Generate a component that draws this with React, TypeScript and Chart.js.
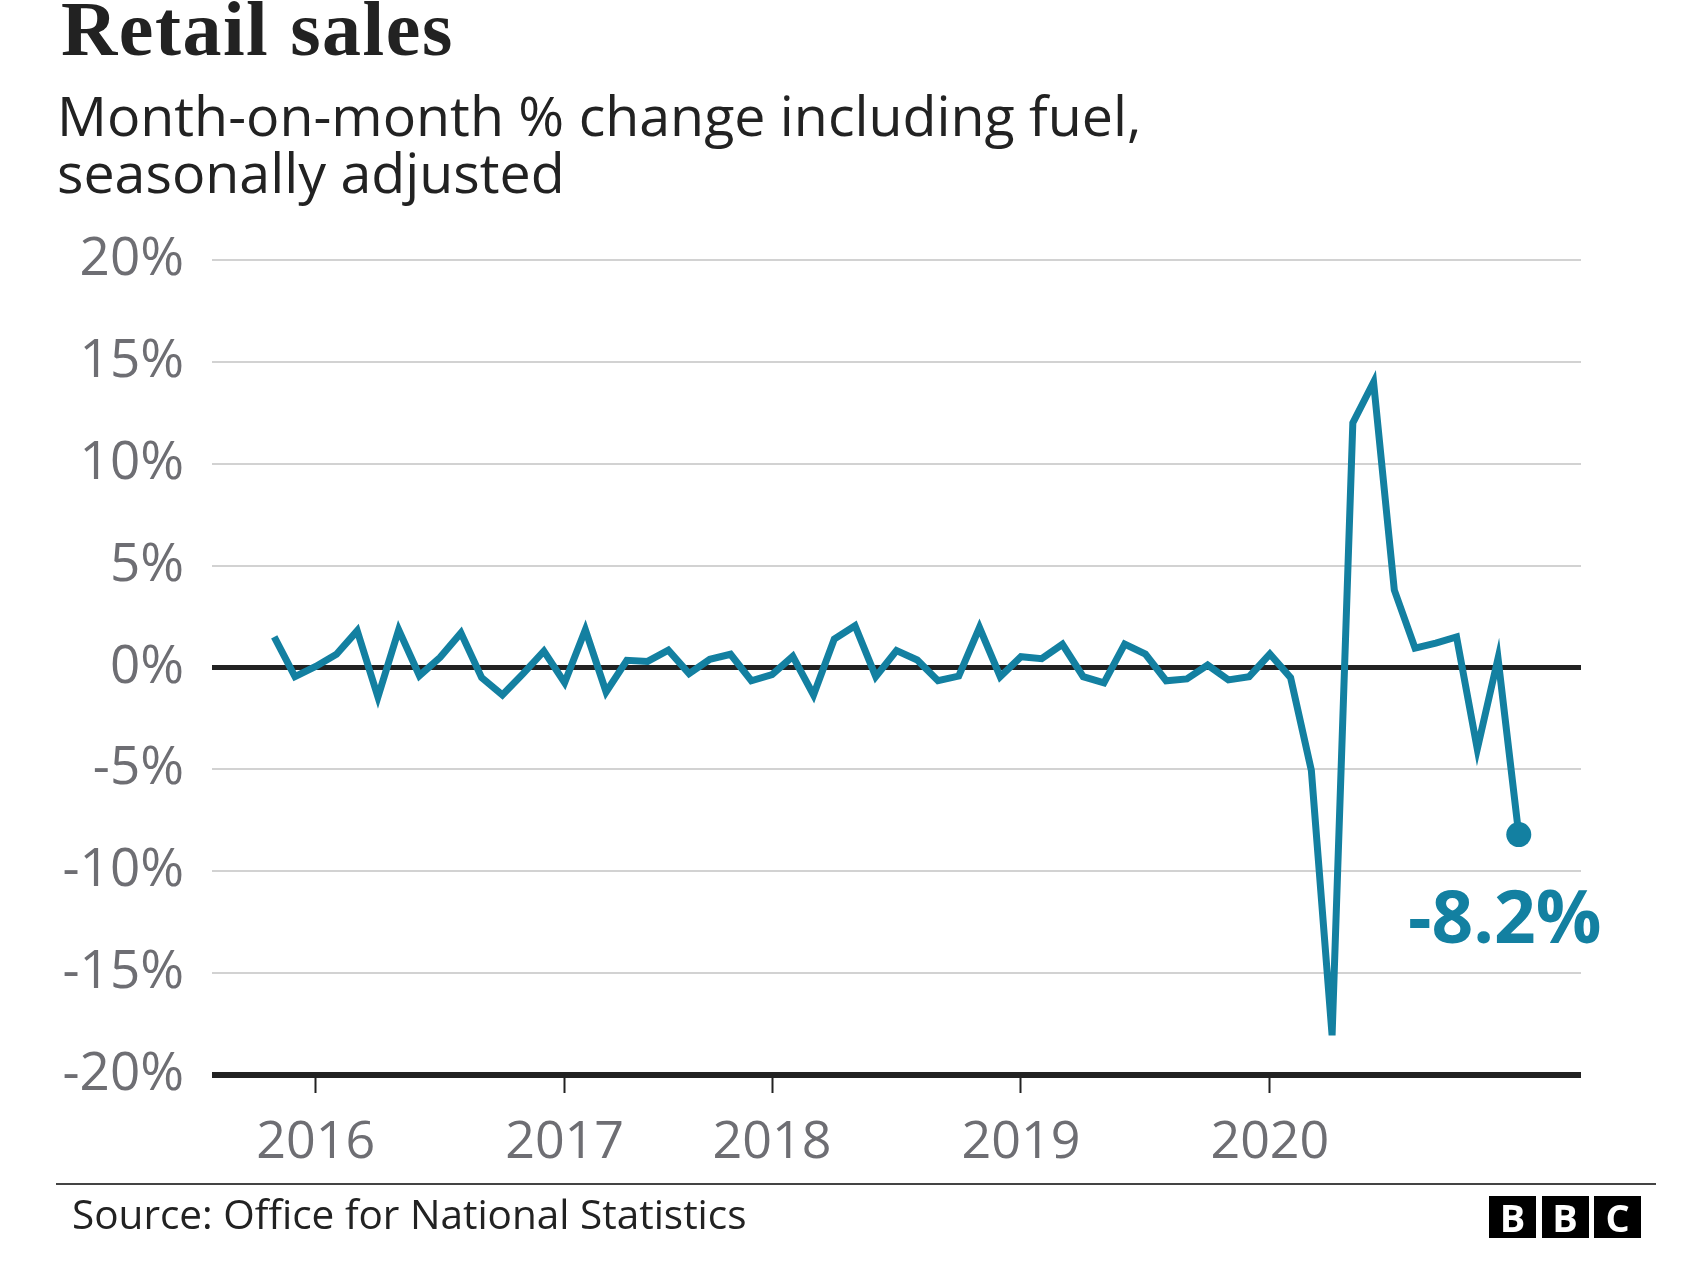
import React, { useEffect, useRef } from "react";
import { Chart, registerables } from "chart.js";

Chart.register(...registerables);

// ---- data ----
const monthNames = ["Jan", "Feb", "Mar", "Apr", "May", "Jun", "Jul", "Aug", "Sep", "Oct", "Nov", "Dec"];
const years = [2016, 2017, 2018, 2019, 2020];
const categories: string[] = [];
for (const y of years) for (const m of monthNames) categories.push(`${m} ${y}`);
categories.push("Jan 2021");

// Month-on-month % change, Jan 2016 .. Jan 2021
const retailSales = [
  1.5, -0.45, 0.05, 0.65, 1.8, -1.45, 1.85, -0.4, 0.5, 1.7, -0.5, -1.35,
  -0.3, 0.8, -0.75, 1.85, -1.2, 0.35, 0.3, 0.85, -0.3, 0.4, 0.65, -0.65,
  -0.35, 0.55, -1.35, 1.4, 2.05, -0.45, 0.83, 0.37, -0.65, -0.42, 1.96, -0.45,
  0.53, 0.43, 1.14, -0.45, -0.75, 1.15, 0.66, -0.65, -0.56, 0.12, -0.61, -0.45,
  0.66, -0.5, -5.05, -18.05, 12.0, 14.0, 3.8, 0.95, 1.2, 1.5, -4.0, 0.45,
  -8.2,
];

const yTickValues = [-20, -15, -10, -5, 0, 5, 10, 15, 20];
const xTickCategories = ["Mar 2016", "Mar 2017", "Jan 2018", "Jan 2019", "Jan 2020"];
const xTickLabels = ["2016", "2017", "2018", "2019", "2020"];

const TITLE = "Retail sales";
const SUBTITLE_1 = "Month-on-month % change including fuel,";
const SUBTITLE_2 = "seasonally adjusted";
const SOURCE = "Source: Office for National Statistics";

// ---- styles ----
const TEAL = "#1380A1";
const GRAY = "#6e6e73";
const DARK = "#222222";
const SANS = '"Open Sans", "Noto Sans", sans-serif';

const W = 1701;
const H = 1274;

export default function App() {
  const ref = useRef<HTMLCanvasElement | null>(null);

  useEffect(() => {
    const canvas = ref.current;
    if (!canvas) return;
    const last = retailSales.length - 1;
    const xTickIdx = xTickCategories.map((c) => categories.indexOf(c));

    const endLabel = {
      id: "endLabel",
      afterDatasetsDraw(chart: any) {
        const meta = chart.getDatasetMeta(0);
        const pt = meta.data[last];
        if (!pt) return;
        const ctx = chart.ctx;
        ctx.save();
        ctx.font = `bold 73px ${SANS}`;
        ctx.fillStyle = TEAL;
        ctx.textAlign = "center";
        ctx.textBaseline = "alphabetic";
        ctx.fillText(`${retailSales[last]}%`, pt.x - 14, pt.y + 108);
        ctx.restore();
      },
    };

    const chart = new Chart(canvas, {
      type: "line",
      data: {
        datasets: [
          {
            data: retailSales.map((v, i) => ({ x: i, y: v })),
            borderColor: TEAL,
            borderWidth: 7,
            borderJoinStyle: "miter",
            borderCapStyle: "butt",
            tension: 0,
            pointRadius: (c: any) => (c.dataIndex === last ? 12.5 : 0),
            pointHoverRadius: (c: any) => (c.dataIndex === last ? 12.5 : 0),
            pointBackgroundColor: TEAL,
            pointBorderWidth: 0,
            clip: false,
          } as any,
        ],
      },
      options: {
        responsive: false,
        animation: false,
        devicePixelRatio: 1,
        events: [],
        layout: { padding: { left: 0, top: 260, right: 120, bottom: 79 } },
        plugins: {
          legend: { display: false },
          tooltip: { enabled: false },
          title: { display: false },
        },
        scales: {
          x: {
            type: "linear",
            min: -3,
            max: 63,
            afterBuildTicks: (s: any) => {
              s.ticks = xTickIdx.map((v) => ({ value: v }));
            },
            afterFit: (s: any) => {
              s.height = 120;
            },
            border: { display: false },
            grid: {
              drawOnChartArea: false,
              drawTicks: true,
              tickLength: 18,
              tickColor: DARK,
              tickWidth: 2,
              color: DARK,
            },
            ticks: {
              autoSkip: false,
              maxRotation: 0,
              padding: 19,
              color: GRAY,
              font: { family: SANS, size: 52 },
              callback: (v: any) => {
                const i = xTickIdx.indexOf(Number(v));
                return i >= 0 ? xTickLabels[i] : "";
              },
            },
          },
          y: {
            min: -20,
            max: 20,
            afterBuildTicks: (s: any) => {
              s.ticks = yTickValues.map((v) => ({ value: v }));
            },
            afterFit: (s: any) => {
              s.width = 212;
            },
            border: { display: false },
            grid: {
              drawTicks: false,
              color: (c: any) => (c.tick && (c.tick.value === 0 || c.tick.value === -20) ? DARK : "#d2d2d2"),
              lineWidth: (c: any) => (c.tick && c.tick.value === 0 ? 5 : c.tick && c.tick.value === -20 ? 6 : 2),
            },
            ticks: {
              padding: 28,
              color: GRAY,
              font: { family: SANS, size: 53 },
              callback: (v: any) => `${v}%`,
            },
          },
        },
      },
      plugins: [endLabel],
    } as any);

    let alive = true;
    if ((document as any).fonts && (document as any).fonts.load) {
      Promise.all([
        (document as any).fonts.load(`52px "Open Sans"`),
        (document as any).fonts.load(`bold 73px "Open Sans"`),
      ])
        .then(() => {
          if (alive) chart.update();
        })
        .catch(() => {});
    }

    return () => {
      alive = false;
      chart.destroy();
    };
  }, []);

  const box = (letter: string, left: number) => (
    <div
      key={left}
      style={{
        position: "absolute",
        left,
        top: 1196,
        width: 47,
        height: 42,
        background: "#000",
        color: "#fff",
        fontFamily: SANS,
        fontWeight: 700,
        fontSize: 38,
        lineHeight: "42px",
        textAlign: "center",
      }}
    >
      {letter}
    </div>
  );

  return (
    <div
      style={{
        position: "fixed",
        left: 0,
        top: 0,
        width: W,
        height: H,
        background: "#fff",
        overflow: "hidden",
      }}
    >
      <canvas
        ref={ref}
        width={W}
        height={H}
        style={{ position: "absolute", left: 0, top: 0, width: W, height: H }}
      />
      <div
        style={{
          position: "absolute",
          left: 61,
          top: -10,
          fontFamily: '"Liberation Serif", serif',
          fontWeight: 700,
          fontSize: 78,
          lineHeight: "78px",
          letterSpacing: "1.5px",
          color: DARK,
          whiteSpace: "nowrap",
        }}
      >
        {TITLE}
      </div>
      <div
        style={{
          position: "absolute",
          left: 57,
          top: 86,
          fontFamily: SANS,
          fontSize: 55.5,
          lineHeight: "57px",
          color: DARK,
          whiteSpace: "nowrap",
        }}
      >
        {SUBTITLE_1}
        <br />
        {SUBTITLE_2}
      </div>
      <div
        style={{
          position: "absolute",
          left: 56,
          top: 1183,
          width: 1600,
          height: 2,
          background: "#444",
        }}
      />
      <div
        style={{
          position: "absolute",
          left: 72,
          top: 1189,
          fontFamily: SANS,
          fontSize: 40.5,
          lineHeight: "50px",
          color: DARK,
          whiteSpace: "nowrap",
        }}
      >
        {SOURCE}
      </div>
      {box("B", 1489)}
      {box("B", 1541.5)}
      {box("C", 1594)}
    </div>
  );
}
